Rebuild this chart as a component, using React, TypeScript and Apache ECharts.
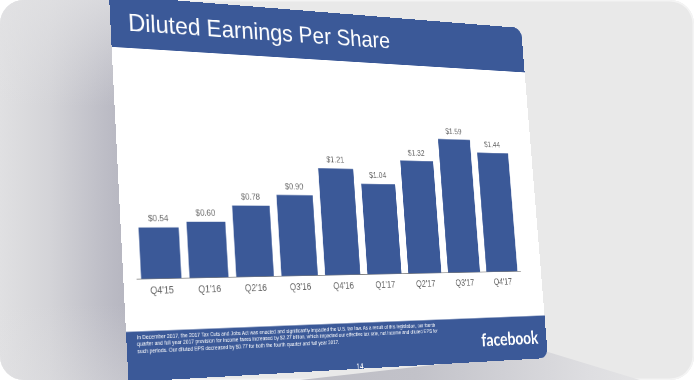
import React, { useEffect, useRef } from "react";
import * as echarts from "echarts";

const categories = ["Q4'15", "Q1'16", "Q2'16", "Q3'16", "Q4'16", "Q1'17", "Q2'17", "Q3'17", "Q4'17"];
const eps = [0.54, 0.6, 0.78, 0.9, 1.21, 1.04, 1.32, 1.59, 1.44];
const titleText = "Diluted Earnings Per Share";
const footnoteLines = [
  "In December 2017, the 2017 Tax Cuts and Jobs Act was enacted and significantly impacted the U.S. tax law. As a result of this legislation, our fourth",
  "quarter and full year 2017 provision for income taxes increased by $2.27 billion, which impacted our effective tax rate, net income and diluted EPS for",
  "such periods. Our diluted EPS decreased by $0.77 for both the fourth quarter and full year 2017.",
];
const pageNumber = "14";
const logoText = "facebook";

// flat slide size and where its corners land on the page (perspective)
const SW = 640;
const SH = 480;
const TL = [109, -5];
const TR = [521, 28];
const BR = [548, 358];
const BL = [128.5, 382];

function buildH(): number[][] {
  const [x0, y0] = TL, [x1, y1] = TR, [x2, y2] = BR, [x3, y3] = BL;
  const dx1 = x1 - x2, dx2 = x3 - x2, dx3 = x0 - x1 + x2 - x3;
  const dy1 = y1 - y2, dy2 = y3 - y2, dy3 = y0 - y1 + y2 - y3;
  const det = dx1 * dy2 - dx2 * dy1;
  const g = (dx3 * dy2 - dx2 * dy3) / det;
  const h = (dx1 * dy3 - dx3 * dy1) / det;
  const a = x1 - x0 + g * x1, b = x3 - x0 + h * x3, c = x0;
  const d = y1 - y0 + g * y1, e = y3 - y0 + h * y3, f = y0;
  return [
    [a / SW, b / SH, c],
    [d / SW, e / SH, f],
    [g / SW, h / SH, 1],
  ];
}
function inv3(m: number[][]): number[][] {
  const [[a, b, c], [d, e, f], [g, h, i]] = m;
  const A = e * i - f * h, B = -(d * i - f * g), C = d * h - e * g;
  const D = -(b * i - c * h), E = a * i - c * g, F = -(a * h - b * g);
  const G = b * f - c * e, Hh = -(a * f - c * d), I = a * e - b * d;
  const det = a * A + b * B + c * C;
  return [
    [A / det, D / det, G / det],
    [B / det, E / det, Hh / det],
    [C / det, F / det, I / det],
  ];
}
const HM = buildH();
const HI = inv3(HM);
function toFlat(x: number, y: number): [number, number] {
  const X = HI[0][0] * x + HI[0][1] * y + HI[0][2];
  const Y = HI[1][0] * x + HI[1][1] * y + HI[1][2];
  const w = HI[2][0] * x + HI[2][1] * y + HI[2][2];
  return [X / w, Y / w];
}
const matrix3d = `matrix3d(${HM[0][0]},${HM[1][0]},0,${HM[2][0]},${HM[0][1]},${HM[1][1]},0,${HM[2][1]},0,0,1,0,${HM[0][2]},${HM[1][2]},0,${HM[2][2]})`;

const BLUE = "#3b5998";
const FONT = "'Liberation Sans', Arial, Helvetica, sans-serif";

export default function App() {
  const ref = useRef<HTMLDivElement>(null);
  useEffect(() => {
    if (!ref.current) return;
    const chart = echarts.init(ref.current, null, { renderer: "svg" });

    const c1 = toFlat(161.5, 279);
    const c9 = toFlat(502, 271);
    const pitch = (c9[0] - c1[0]) / 8;
    const gridLeft = c1[0] - pitch / 2;
    const gridRight = SW - (c9[0] + pitch / 2);
    const baseY = (c1[1] + c9[1]) / 2;
    const topRef = toFlat(463, 140)[1];
    const baseRef = toFlat(463, 272.5)[1];
    const unit = (baseRef - topRef) / 1.59;
    const yMax = 2;
    const gridTop = baseY - yMax * unit;

    const hb1 = toFlat(112, 46), hb2 = toFlat(523, 73);
    const headerH = (hb1[1] + hb2[1]) / 2;
    const ft1 = toFlat(125, 329), ft2 = toFlat(547, 318);
    const footerY = (ft1[1] + ft2[1]) / 2;
    const title = toFlat(128, 21.5);
    const note = toFlat(137, 344);
    const page = toFlat(360, 367);
    const logo = toFlat(510, 338);

    const textStyle = (extra: any) => ({ fill: "#ffffff", fontFamily: FONT, ...extra });

    chart.setOption({
      animation: false,
      backgroundColor: "#ffffff",
      grid: { left: gridLeft, right: gridRight, top: gridTop, bottom: SH - baseY },
      xAxis: {
        type: "category",
        data: categories,
        axisLine: { lineStyle: { color: "#808080", width: 1.2 } },
        axisTick: { show: false },
        axisLabel: { color: "#666666", fontSize: 12, margin: 8, fontFamily: FONT },
      },
      yAxis: { type: "value", min: 0, max: yMax, show: false, splitLine: { show: false } },
      series: [
        {
          type: "bar",
          data: eps,
          barCategoryGap: "17%",
          itemStyle: { color: BLUE },
          label: {
            show: true,
            position: "top",
            distance: 6,
            color: "#666666",
            fontSize: 11,
            fontFamily: FONT,
            formatter: (p: any) => "$" + Number(p.value).toFixed(2),
          },
        },
      ],
      graphic: [
        { type: "rect", shape: { x: 0, y: 0, width: SW, height: headerH }, style: { fill: BLUE }, z: 0 },
        {
          type: "text",
          x: title[0],
          y: title[1],
          style: textStyle({ text: titleText, fontSize: 32, align: "left", verticalAlign: "middle" }),
        },
        { type: "rect", shape: { x: 0, y: footerY, width: SW, height: SH - footerY }, style: { fill: BLUE }, z: 0 },
        {
          type: "text",
          x: note[0],
          y: note[1],
          style: textStyle({ text: footnoteLines.join("\n"), fontSize: 6.7, lineHeight: 8.5, align: "left", verticalAlign: "middle" }),
        },
        {
          type: "text",
          x: page[0],
          y: page[1],
          style: textStyle({ text: pageNumber, fontSize: 10, align: "center", verticalAlign: "middle" }),
        },
        {
          type: "text",
          x: logo[0],
          y: logo[1],
          style: textStyle({
            text: logoText,
            fontSize: 24,
            fontWeight: "bold",
            fontFamily: "Lato, 'Liberation Sans', sans-serif",
            align: "center",
            verticalAlign: "middle",
          }),
        },
      ],
    });
    return () => chart.dispose();
  }, []);

  return (
    <div style={{ position: "fixed", left: 0, top: 0, width: 694, height: 380, background: "#ffffff", overflow: "hidden" }}>
      <div
        style={{
          position: "absolute",
          left: 0,
          top: 0,
          width: 694,
          height: 380,
          borderRadius: 24,
          background: "#e9e9e9",
          overflow: "hidden",
          boxShadow: "inset 0 0 0 1.5px #f4f4f4",
        }}
      >
        <div
          style={{
            position: "absolute",
            left: 0,
            top: 0,
            width: 140,
            height: 380,
            background: "linear-gradient(90deg, #e0e0e2 0%, #d4d4d8 35%, #bdbdc6 75%, #b1b1bc 100%)",
          }}
        />
        <div
          style={{
            position: "absolute",
            left: 0,
            top: 0,
            width: 140,
            height: 380,
            background:
              "linear-gradient(180deg, rgba(226,226,228,0.75) 0%, rgba(226,226,228,0) 28%, rgba(226,226,228,0) 80%, rgba(226,226,228,0.35) 100%)",
          }}
        />
        <div
          style={{
            position: "absolute",
            left: 0,
            top: 0,
            width: 694,
            height: 380,
            clipPath: "polygon(300px 380px, 548px 352px, 640px 380px)",
            background: "linear-gradient(90deg, #b4b4bd 0%, #c2c2c9 60%, #dedee1 85%, #e9e9e9 100%)",
          }}
        />
        <div
          ref={ref}
          style={{
            position: "absolute",
            left: 0,
            top: 0,
            width: SW,
            height: SH,
            transformOrigin: "0 0",
            transform: matrix3d,
            borderRadius: "0 14px 14px 0",
            overflow: "hidden",
            background: "#ffffff",
          }}
        />
      </div>
    </div>
  );
}
